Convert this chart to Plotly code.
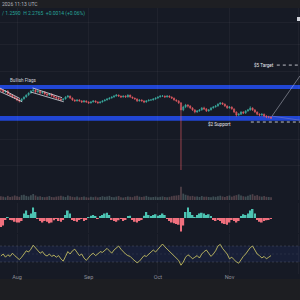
import math
import pandas as pd
import plotly.graph_objects as go

# ---------------- data ----------------
start_date = "2025-07-25"
first_open = 3.40
close = [3.35, 3.24, 3.30, 3.14, 3.09, 2.99, 2.94,
         2.85, 2.81, 2.90, 2.99, 3.09, 3.19, 3.30, 3.35, 3.24, 3.30, 3.19, 3.24, 3.14, 3.09, 3.14, 3.04,
         2.99, 2.94, 2.90, 2.85, 2.90, 2.99, 3.04, 2.94, 2.85, 2.81, 2.85, 2.81, 2.76, 2.81, 2.76,
         2.72, 2.76, 2.81, 2.76, 2.72, 2.76, 2.81, 2.85, 2.90, 2.94, 2.99, 3.04, 3.09, 3.04, 2.99,
         3.04, 2.99, 3.09, 2.99, 2.94, 2.90, 2.81, 2.85, 2.81, 2.76, 2.81, 2.85, 2.85, 2.90, 2.94,
         2.99, 3.04, 3.04, 2.99, 3.04, 2.99, 2.94, 2.85, 2.81, 2.72, 2.43, 2.55, 2.63, 2.59, 2.51,
         2.43, 2.35, 2.39, 2.43, 2.51, 2.47, 2.39, 2.43, 2.51, 2.55, 2.59, 2.67, 2.72, 2.67, 2.59, 2.51,
         2.55, 2.47, 2.35, 2.24, 2.27, 2.35, 2.31, 2.39, 2.43, 2.51, 2.43, 2.35, 2.27, 2.24, 2.27,
         2.20, 2.17, 2.17, 2.13]
high = [3.44, 3.38, 3.33, 3.34, 3.19, 3.12, 3.04,
        2.97, 2.90, 2.93, 3.02, 3.12, 3.22, 3.34, 3.39, 3.38, 3.33, 3.33, 3.28, 3.27, 3.18, 3.17, 3.16,
        3.08, 3.02, 2.98, 2.93, 2.93, 3.03, 3.08, 3.06, 2.97, 2.88, 2.88, 2.89, 2.84, 2.84, 2.83,
        2.79, 2.79, 2.84, 2.83, 2.79, 2.78, 2.83, 2.88, 2.93, 2.98, 3.02, 3.07, 3.13, 3.11, 3.06,
        3.06, 3.07, 3.12, 3.10, 3.01, 2.96, 2.92, 2.88, 2.88, 2.83, 2.84, 2.87, 2.89, 2.93, 2.97,
        3.02, 3.07, 3.08, 3.06, 3.07, 3.07, 3.02, 2.96, 2.88, 2.84, 2.76, 2.60, 2.68, 2.67, 2.62,
        2.54, 2.46, 2.42, 2.46, 2.54, 2.56, 2.50, 2.46, 2.54, 2.58, 2.62, 2.70, 2.75, 2.74, 2.69, 2.61,
        2.58, 2.57, 2.49, 2.37, 2.31, 2.38, 2.38, 2.42, 2.47, 2.58, 2.53, 2.46, 2.37, 2.30, 2.30,
        2.29, 2.23, 2.21, 2.19]
low = [3.31, 3.21, 3.20, 3.10, 3.05, 2.95, 2.90,
       2.80, 2.74, 2.77, 2.87, 2.96, 3.05, 3.16, 3.25, 3.20, 3.21, 3.15, 3.15, 3.10, 3.04, 3.05, 3.00,
       2.95, 2.89, 2.86, 2.80, 2.82, 2.87, 2.96, 2.90, 2.81, 2.77, 2.78, 2.78, 2.72, 2.74, 2.73,
       2.68, 2.69, 2.74, 2.73, 2.69, 2.70, 2.74, 2.79, 2.83, 2.87, 2.92, 2.96, 3.01, 3.00, 2.95,
       2.97, 2.96, 2.97, 2.96, 2.91, 2.87, 2.76, 2.78, 2.78, 2.71, 2.73, 2.79, 2.82, 2.83, 2.86,
       2.91, 2.97, 3.00, 2.96, 2.97, 2.96, 2.90, 2.82, 2.77, 2.68, 0.59, 2.38, 2.50, 2.52, 2.47,
       2.39, 2.30, 2.32, 2.36, 2.40, 2.43, 2.35, 2.36, 2.41, 2.48, 2.52, 2.56, 2.64, 2.63, 2.55, 2.47,
       2.48, 2.44, 2.31, 2.18, 2.20, 2.24, 2.27, 2.28, 2.36, 2.40, 2.39, 2.32, 2.23, 2.19, 2.21,
       2.16, 2.13, 2.12, 2.10]
volume = [2.0, 1.8, 1.5, 2.2, 1.6, 1.9, 2.4, 2.0, 1.7, 2.6,
          2.8, 2.2, 1.9, 2.5, 3.2, 2.4, 1.8, 2.0, 1.6, 1.5,
          1.7, 2.1, 1.6, 1.4, 1.8, 2.0, 2.3, 1.9, 1.6, 2.4,
          2.0, 1.7, 1.5, 1.8, 1.4, 1.6, 1.9, 1.5, 1.3, 1.7,
          1.5, 1.8, 1.4, 1.6, 2.0, 1.7, 1.9, 2.2, 1.6, 1.4,
          1.8, 2.1, 1.5, 1.3, 1.6, 1.9, 1.7, 1.5, 2.0, 2.3,
          1.8, 1.6, 1.9, 2.2, 1.7, 1.5, 1.6, 1.8, 1.5, 1.7,
          1.9, 1.6, 1.4, 1.7, 2.0, 2.2, 2.4, 2.6, 7.0, 3.4,
          2.8, 2.4, 2.0, 2.2, 1.8, 1.9, 1.6, 2.1, 1.7, 1.8,
          1.6, 1.5, 1.9, 1.7, 2.0, 2.3, 1.9, 1.6, 2.1, 2.4,
          1.8, 2.2, 2.6, 3.0, 2.4, 2.0, 1.8, 2.3, 2.8, 3.1,
          2.2, 2.6, 2.0, 1.8, 2.1, 1.7, 1.6, 1.5]
macd_hist = [-0.06, -0.05, -0.01, 0.005, -0.01, -0.015, -0.025, -0.03, -0.03, -0.02,
             0.03, 0.05, 0.02, 0.03, 0.07, 0.04, -0.005, -0.02, -0.03, -0.02,
             -0.025, -0.035, -0.03, -0.015, -0.005, -0.02, -0.025, -0.01, 0.02, 0.05,
             0.03, -0.01, -0.02, -0.025, -0.01, -0.005, -0.02, -0.01, 0.005, 0.015,
             0.02, 0.01, -0.005, 0.01, 0.02, 0.03, 0.035, 0.02, -0.01, -0.02,
             -0.025, -0.015, -0.005, -0.02, -0.01, 0.01, 0.015, -0.01, -0.025, -0.03,
             -0.02, -0.01, 0.015, 0.04, 0.02, 0.01, 0.02, 0.025, 0.015, 0.02,
             0.03, 0.02, -0.005, -0.02, -0.03, -0.035, -0.04, -0.045, -0.09, -0.05,
             0.04, 0.07, 0.04, 0.02, 0.005, 0.02, 0.03, 0.035, 0.03, 0.02,
             0.025, 0.01, -0.01, -0.02, -0.01, -0.02, -0.035, -0.04, -0.045, -0.03,
             -0.01, -0.02, -0.03, -0.02, 0.01, 0.025, 0.02, 0.03, 0.05, 0.06,
             0.03, -0.01, -0.025, -0.03, -0.02, -0.015, -0.01, -0.005]
rsi = [45, 50, 42, 48, 44, 52, 46, 40, 36, 42,
       50, 58, 55, 62, 72, 66, 58, 52, 56, 48,
       45, 50, 44, 47, 42, 46, 38, 32, 44, 56,
       50, 58, 62, 54, 46, 50, 40, 34, 42, 48,
       52, 46, 50, 56, 54, 60, 64, 58, 52, 60,
       66, 70, 62, 55, 50, 46, 44, 38, 34, 28,
       32, 40, 46, 44, 50, 56, 60, 55, 62, 68,
       75, 68, 62, 56, 50, 44, 40, 34, 22, 30,
       42, 48, 44, 38, 42, 46, 40, 50, 56, 60,
       52, 44, 50, 58, 70, 74, 64, 56, 50, 38,
       42, 36, 30, 27, 36, 44, 50, 58, 66, 70,
       58, 50, 46, 40, 44, 38, 42, 46]

month_ticks = ["2025-08-01", "2025-09-01", "2025-10-01", "2025-11-01", "2025-12-01"]
month_labels = ["Aug", "Sep", "Oct", "Nov", "Dec"]
x_range = ["2025-07-24 15:00", "2025-12-01 13:00"]

resistance_band = [3.40, 3.63]
support_band = [2.04, 2.20]
target_price = 5.0
support_price = 2.0
rsi_upper, rsi_mid, rsi_lower = 70, 50, 30

# flag channel lines: (date0, price0, date1, price1)
flag_lines = [
    ("2025-07-24 12:00", 3.46, "2025-08-02 06:00", 2.92),
    ("2025-07-24 12:00", 3.27, "2025-08-03 06:00", 2.77),
    ("2025-08-07 18:00", 3.46, "2025-08-20 12:00", 2.96),
    ("2025-08-07 00:00", 3.24, "2025-08-21 06:00", 2.77),
]
projection_up = ("2025-11-19 10:00", 2.20, "2025-12-01 13:00", 4.20)
projection_flat = ("2025-11-19 10:00", 2.20, "2025-12-01 13:00", 2.06)
target_line_dates = ("2025-11-21 12:00", "2025-12-01 13:00")
support_line_dates = ("2025-11-10 06:00", "2025-12-01 13:00")
flags_label = ("2025-07-28 00:00", 3.93, "Bullish Flags")
target_label = ("2025-11-21 00:00", "$5 Target")
support_label = ("2025-10-27 12:00", 1.93, "$2 Support")
header_time = "2026 11:13 UTC"
header_quote = "/ 1.2590  H 2.2765  +0.0014 (+0.06%)"

# ---------------- figure ----------------
dates = pd.date_range(start_date, periods=len(close), freq="D")
open_ = [first_open] + close[:-1]
up = [c >= o for o, c in zip(open_, close)]

UP = "#3fb5a8"
DN = "#ef5f68"
BG = "#161a25"
FONT = "Roboto"

def py(p):  # pixel row -> paper fraction
    return 1 - p / 300.0

fig = go.Figure()

fig.add_trace(go.Candlestick(
    x=dates, open=open_, high=high, low=low, close=close,
    xaxis="x", yaxis="y",
    increasing=dict(line=dict(color=UP, width=0.6), fillcolor="rgba(63,181,168,0.6)"),
    decreasing=dict(line=dict(color=DN, width=0.6), fillcolor="rgba(239,95,104,0.6)"),
    showlegend=False, hoverinfo="skip"))

fig.add_trace(go.Bar(
    x=dates, y=volume, xaxis="x", yaxis="y2",
    marker=dict(color=["rgba(110,140,140,0.45)" if u else "rgba(150,110,115,0.45)" for u in up],
                line=dict(width=0)),
    showlegend=False, hoverinfo="skip"))

fig.add_trace(go.Bar(
    x=dates, y=macd_hist, xaxis="x", yaxis="y3",
    marker=dict(color=["#4cc3b2" if v >= 0 else "#f0707e" for v in macd_hist],
                line=dict(width=0)),
    showlegend=False, hoverinfo="skip"))

fig.add_trace(go.Scatter(
    x=dates, y=rsi, xaxis="x", yaxis="y4", mode="lines",
    line=dict(color="#d8d066", width=0.8),
    showlegend=False, hoverinfo="skip"))

shapes = []
shapes.append(dict(type="rect", xref="paper", yref="paper", x0=0, x1=1, y0=py(8), y1=1,
                   fillcolor="#1e1f23", line=dict(width=0), layer="below"))
shapes.append(dict(type="rect", xref="paper", yref="paper", x0=0, x1=1, y0=0, y1=py(279),
                   fillcolor="#1d1e22", line=dict(width=0), layer="below"))
for lo, hi in (resistance_band, support_band):
    shapes.append(dict(type="rect", xref="paper", yref="y", x0=0, x1=1, y0=lo, y1=hi,
                       fillcolor="#2146d4", line=dict(width=0), layer="below"))
for d0, p0, d1, p1 in flag_lines:
    shapes.append(dict(type="line", xref="x", yref="y", x0=d0, y0=p0, x1=d1, y1=p1,
                       line=dict(color="rgba(225,228,235,0.85)", width=0.9)))
for d0, p0, d1, p1 in (projection_up,):
    shapes.append(dict(type="line", xref="x", yref="y", x0=d0, y0=p0, x1=d1, y1=p1,
                       line=dict(color="rgba(200,203,215,0.6)", width=0.8)))
for d0, p0, d1, p1 in (projection_flat,):
    shapes.append(dict(type="line", xref="x", yref="y", x0=d0, y0=p0, x1=d1, y1=p1,
                       line=dict(color="rgba(160,150,190,0.5)", width=0.8)))
shapes.append(dict(type="line", xref="x", yref="y", x0=target_line_dates[0], x1=target_line_dates[1],
                   y0=target_price, y1=target_price,
                   line=dict(color="rgba(230,232,238,0.9)", width=0.9, dash="3px,3px")))
shapes.append(dict(type="line", xref="x", yref="y", x0=support_line_dates[0], x1=support_line_dates[1],
                   y0=support_price, y1=support_price,
                   line=dict(color="rgba(230,232,238,0.9)", width=0.9, dash="3px,3px")))
shapes.append(dict(type="rect", xref="paper", yref="y4", x0=0, x1=1, y0=rsi_lower, y1=rsi_upper,
                   fillcolor="rgba(40,70,190,0.12)", line=dict(width=0), layer="below"))
for lvl, op in ((rsi_upper, 0.4), (rsi_lower, 0.4), (rsi_mid, 0.2)):
    shapes.append(dict(type="line", xref="paper", yref="y4", x0=0, x1=1, y0=lvl, y1=lvl,
                       line=dict(color=f"rgba(150,155,170,{op})", width=0.6, dash="2px,2px")))
shapes.append(dict(type="rect", xref="paper", yref="paper", x0=0.99, x1=1.0, y0=py(21), y1=py(17),
                   fillcolor="#d1d4dc", line=dict(width=0)))

annotations = [
    dict(xref="paper", yref="paper", x=0, y=py(4), text=header_time, showarrow=False,
         xanchor="left", yanchor="middle", font=dict(family=FONT, size=5, color="#b2b5be")),
    dict(xref="paper", yref="paper", x=0, y=py(14), text=header_quote, showarrow=False,
         xanchor="left", yanchor="middle", font=dict(family=FONT, size=5, color="#26a69a")),
    dict(xref="x", yref="y", x=flags_label[0], y=math.log10(flags_label[1]), text=flags_label[2],
         showarrow=False, xanchor="left", yanchor="middle",
         font=dict(family=FONT, size=4.6, color="#d1d4dc")),
    dict(xref="x", yref="y", x=target_label[0], y=math.log10(target_price), text=target_label[1],
         showarrow=False, xanchor="right", yanchor="middle",
         font=dict(family=FONT, size=4.6, color="#e6e8ee")),
    dict(xref="x", yref="y", x=support_label[0], y=math.log10(support_label[1]), text=support_label[2],
         showarrow=False, xanchor="center", yanchor="middle",
         font=dict(family=FONT, size=4.6, color="#e6e8ee")),
]

fig.update_layout(
    width=300, height=300, margin=dict(l=0, r=0, t=0, b=0),
    paper_bgcolor=BG, plot_bgcolor=BG, showlegend=False, bargap=0.25,
    font=dict(family=FONT, color="#8b8e97"),
    xaxis=dict(type="date", range=x_range, tickvals=month_ticks, ticktext=month_labels,
               tickfont=dict(size=5.5, color="#8b8e97"), showgrid=True,
               gridcolor="rgba(255,255,255,0.04)", zeroline=False, showline=False, ticks="",
               anchor="free", position=py(272), rangeslider=dict(visible=False), fixedrange=True),
    yaxis=dict(domain=[py(200), py(8)], type="log", range=[-0.244, 1.098], showticklabels=False,
               tickvals=[0.75, 1.0, 1.5, 4.5, 7.0, 10.0], showgrid=True,
               gridcolor="rgba(255,255,255,0.04)", zeroline=False, ticks="", anchor="x"),
    yaxis2=dict(domain=[py(200), py(170)], range=[0, 16], visible=False, anchor="x"),
    yaxis3=dict(domain=[py(233), py(203)], range=[-0.1, 0.1], visible=False, anchor="x"),
    yaxis4=dict(domain=[py(274), py(234)], range=[0, 100], visible=False, anchor="x"),
    shapes=shapes, annotations=annotations,
)

fig.write_html("out.html")
